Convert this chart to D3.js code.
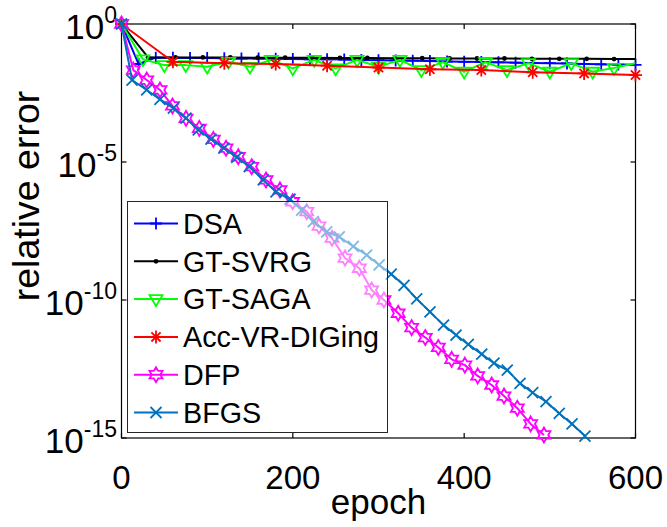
<!DOCTYPE html>
<html><head><meta charset="utf-8">
<script src="https://cdn.jsdelivr.net/npm/d3@7"></script>
<style>body{margin:0;background:#fff}svg{display:block}text{font-family:"Liberation Sans",Arial,sans-serif}</style>
</head><body>
<script>
// ---- data (relative error stored as log10 values) ----
const seriesNames = ["DSA","GT-SVRG","GT-SAGA","Acc-VR-DIGing","DFP","BFGS"];
const xTicks = [0,200,400,600];
const yTickExps = [0,-5,-10,-15];

const dsaEpoch = [0,20,40,60,80,100,120,140,160,180,200,220,240,260,280,300,320,340,360,380,400,420,440,460,480,500,520,540,560,580,600];
const dsaLog10 = [0,-1.45,-1.22,-1.22,-1.23,-1.23,-1.24,-1.25,-1.25,-1.26,-1.27,-1.28,-1.28,-1.29,-1.30,-1.31,-1.32,-1.33,-1.34,-1.36,-1.37,-1.38,-1.39,-1.40,-1.41,-1.42,-1.43,-1.45,-1.46,-1.47,-1.48];

const svrgEpoch = [0,31,63,95,127,159,191,223,255,287,319,351,383,415,447,479,511,543,575,600];
const svrgLog10 = [0,-1.21,-1.21,-1.21,-1.21,-1.22,-1.22,-1.22,-1.23,-1.23,-1.24,-1.24,-1.25,-1.25,-1.25,-1.26,-1.26,-1.26,-1.27,-1.27];

const sagaEpoch = [0,25,50,75,100,125,150,175,200,225,250,275,300,325,350,375,400,425,450,475,500,525,550,575,600];
const sagaLog10 = [0,-1.28,-1.49,-1.49,-1.55,-1.37,-1.55,-1.30,-1.61,-1.30,-1.61,-1.30,-1.55,-1.30,-1.67,-1.38,-1.73,-1.38,-1.67,-1.42,-1.73,-1.42,-1.73,-1.59,-1.42];

const accEpoch = [0,60,120,180,240,300,360,420,480,540,600];
const accLog10 = [0,-1.37,-1.42,-1.45,-1.51,-1.58,-1.64,-1.67,-1.75,-1.79,-1.85];

const dfpEpoch = [0,13.8,29.4,44.9,59.5,75.3,90.8,107.2,122,136.3,152,168.7,185,199.8,216.2,230.5,245.7,260.9,277.6,292,306.3,323,338.7,354.6,369.8,385.4,400.8,415.8,432.1,446.5,462,477.6,493.1];
const dfpLog10 = [0,-1.67,-2.03,-2.39,-2.97,-3.42,-3.78,-4.18,-4.50,-4.81,-5.17,-5.65,-6.01,-6.44,-6.80,-7.32,-7.76,-8.48,-8.85,-9.64,-10.0,-10.48,-11.0,-11.36,-11.72,-12.15,-12.36,-12.75,-13.08,-13.48,-13.92,-14.49,-14.89];

const bfgsEpoch = [0,12.3,29.4,44.9,60.5,75.3,89.6,104.5,119.6,134.5,149.2,165.5,180.3,196.7,210.3,223.9,239.5,254.2,270.6,286.2,300.8,314.8,329.8,344.6,360.1,375.9,390.5,404.8,420.5,434.8,450.3,465.2,480,495.5,511,525.9,541];
const bfgsLog10 = [0,-2.03,-2.39,-2.73,-3.05,-3.41,-3.84,-4.17,-4.50,-4.83,-5.17,-5.65,-6.08,-6.35,-6.74,-7.16,-7.53,-7.71,-8.06,-8.37,-8.73,-9.06,-9.47,-9.96,-10.43,-10.91,-11.27,-11.61,-11.96,-12.29,-12.54,-13.02,-13.36,-13.68,-14.11,-14.49,-14.93];

// ---- styling ----
const W = 667, H = 527;
const colors = ["#0000FF","#000000","#00FF00","#FF0000","#FF00FF","#0072BD"];
const markerTypes = ["plus","dot","tri","star","hex","cross"];
const series = [
  {x: dsaEpoch, v: dsaLog10, noMarkLast: false},
  {x: svrgEpoch, v: svrgLog10, noMarkLast: true},
  {x: sagaEpoch, v: sagaLog10, noMarkLast: true},
  {x: accEpoch, v: accLog10, noMarkLast: false},
  {x: dfpEpoch, v: dfpLog10, noMarkLast: false},
  {x: bfgsEpoch, v: bfgsLog10, noMarkLast: false}
];

const svg = d3.select("body").append("svg").attr("width", W).attr("height", H);
const pL = 121.5, pR = 635.5, pT = 24, pB = 438;
const x = d3.scaleLinear().domain([0,600]).range([pL,pR]);
const y = d3.scaleLog().domain([1e-15,1]).range([pB,pT]);

function markerPath(type){
  switch(type){
    case "plus": return "M-6,0L6,0M0,-6L0,6";
    case "cross": return "M-5.5,-5.5L5.5,5.5M-5.5,5.5L5.5,-5.5";
    case "star": return "M-6.5,0L6.5,0M0,-6.5L0,6.5M-4.6,-4.6L4.6,4.6M-4.6,4.6L4.6,-4.6";
    case "tri": return "M-6.5,-4L6.5,-4L0,6.8Z";
    case "hex": {
      const pts=[]; const R=7.5, r=4.33;
      for(let i=0;i<12;i++){const a=-Math.PI/2+i*Math.PI/6; const rr=i%2===0?R:r; pts.push([rr*Math.cos(a), rr*Math.sin(a)]);}
      return "M"+pts.map(p=>p[0].toFixed(2)+","+p[1].toFixed(2)).join("L")+"Z";
    }
  }
  return "";
}
function drawMarker(g, type, cx, cy, color){
  if(type==="dot"){
    g.append("circle").attr("cx",cx).attr("cy",cy).attr("r",2.4).attr("fill",color);
  } else {
    g.append("path").attr("d", markerPath(type)).attr("transform",`translate(${cx},${cy})`)
      .attr("fill","none").attr("stroke",color).attr("stroke-width",1.8);
  }
}

// axes box
svg.append("rect").attr("x",pL).attr("y",pT).attr("width",pR-pL).attr("height",pB-pT)
  .attr("fill","none").attr("stroke","#000").attr("stroke-width",1.2);

// ticks
const tickG = svg.append("g").attr("stroke","#000").attr("stroke-width",1.2);
xTicks.forEach(t=>{
  tickG.append("line").attr("x1",x(t)).attr("x2",x(t)).attr("y1",pB).attr("y2",pB-5);
  tickG.append("line").attr("x1",x(t)).attr("x2",x(t)).attr("y1",pT).attr("y2",pT+5);
});
yTickExps.forEach(e=>{
  const v = Math.pow(10,e);
  tickG.append("line").attr("x1",pL).attr("x2",pL+5).attr("y1",y(v)).attr("y2",y(v));
  tickG.append("line").attr("x1",pR).attr("x2",pR-5).attr("y1",y(v)).attr("y2",y(v));
});

// tick labels
xTicks.forEach(t=>{
  svg.append("text").attr("x",x(t)).attr("y",489).attr("text-anchor","middle")
    .attr("font-size",33).text(t);
});
yTickExps.forEach(e=>{
  const v = Math.pow(10,e);
  const tx = svg.append("text").attr("x",117).attr("y",y(v)+15).attr("text-anchor","end").attr("font-size",35);
  tx.append("tspan").text("10");
  tx.append("tspan").attr("dy",-16).attr("font-size",23).text(e===0?"0":"-"+(-e));
});

// axis labels
svg.append("text").attr("x",(pL+pR)/2).attr("y",514).attr("text-anchor","middle").attr("font-size",35).text("epoch");
svg.append("text").attr("transform","translate(39,196) rotate(-90)").attr("text-anchor","middle").attr("font-size",37.5).text("relative error");

// series
const line = d3.line().x(d=>x(d[0])).y(d=>y(d[1]));
svg.append("clipPath").attr("id","clip").append("rect").attr("x",pL).attr("y",pT-1).attr("width",pR-pL).attr("height",pB-pT+2);
series.forEach((s,i)=>{
  const pts = s.x.map((e,j)=>[e, Math.pow(10, s.v[j])]);
  const g = svg.append("g");
  g.append("path").datum(pts).attr("d",line).attr("fill","none").attr("stroke",colors[i])
    .attr("stroke-width",2).attr("stroke-linejoin","round").attr("clip-path","url(#clip)");
  pts.forEach((p,j)=>{
    if(s.noMarkLast && j===pts.length-1) return;
    drawMarker(g, markerTypes[i], x(p[0]), y(p[1]), colors[i]);
  });
});

// legend
const lg = svg.append("g");
lg.append("rect").attr("x",127.5).attr("y",201.5).attr("width",260).attr("height",231)
  .attr("fill","#fff").attr("fill-opacity",0.5).attr("stroke","#262626").attr("stroke-width",1);
seriesNames.forEach((n,i)=>{
  const yy = 223.5 + i*37.8;
  lg.append("line").attr("x1",134).attr("x2",178).attr("y1",yy).attr("y2",yy).attr("stroke",colors[i]).attr("stroke-width",2);
  drawMarker(lg, markerTypes[i], 156, yy, colors[i]);
  lg.append("text").attr("x",183).attr("y",yy).attr("dy","0.36em").attr("font-size",28.7).text(n);
});
</script>
</body></html>
